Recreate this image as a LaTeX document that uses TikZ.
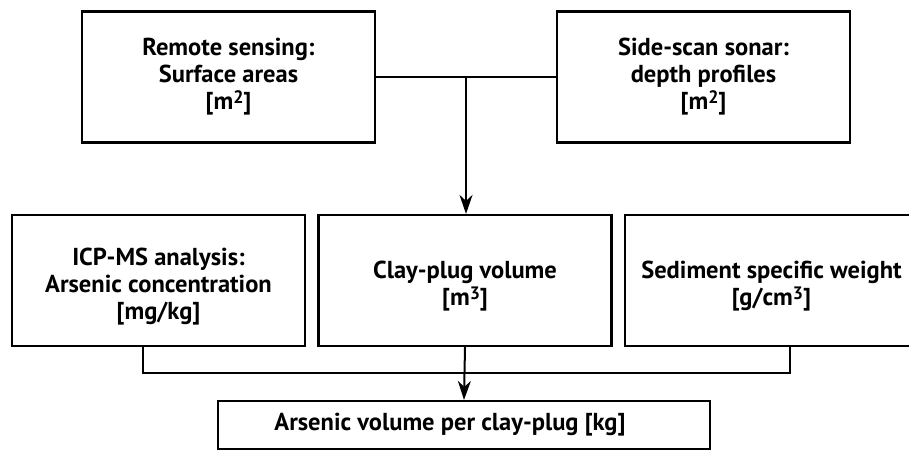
\documentclass[tikz,border=0pt]{standalone}
\usepackage{fontspec}
\setmainfont{PT Sans}
\usetikzlibrary{arrows.meta,positioning,calc}
\newcommand{\supunit}[1]{\raisebox{0.55ex}{\fontsize{18}{18}\selectfont #1}}

\begin{document}
\begin{tikzpicture}[x=1pt,y=1pt,>={Stealth[length=19pt,width=13pt,inset=6pt]},
  box/.style={draw,line width=2.2pt,minimum width=293pt,minimum height=131pt,inner sep=0pt},
  txt/.style={align=center,inner sep=0pt,font=\bfseries\fontsize{24.5}{27}\selectfont},
  link/.style={line width=2pt}]
  \useasboundingbox (0,0) rectangle (909,-451);
  % sources
  \node[box] (remote) at (228.5,-77) {};
  \node[box] (sonar) at (703.5,-77) {};
  \node[txt] (remotetxt) at (remote.center) {Remote sensing:\\Surface areas\\{}[m\supunit{2}]};
  \node[txt] (sonartxt) at (sonar.center) {Side-scan sonar:\\depth profiles\\{}[m\supunit{2}]};
  % middle row
  \node[box] (icp) at (158.5,-280.5) {};
  \node[box] (clay) at (465,-280.5) {};
  \node[box] (sed) at (771.5,-280.5) {};
  \node[txt] (icptxt) at ([yshift=-6pt]icp.center) {ICP-MS analysis:\\Arsenic concentration\\{}[mg/kg]};
  \node[txt] (claytxt) at ([yshift=-6pt]clay.center) {Clay-plug volume\\{}[m\supunit{3}]};
  \node[txt] (sedtxt) at ([yshift=-6pt]sed.center) {Sediment specific weight\\{}[g/cm\supunit{3}]};
  % result
  \node[box,minimum width=492pt,minimum height=48pt] (result) at (464,-425) {};
  \node[txt] (resulttxt) at ([xshift=-14pt]result.center) {Arsenic volume per clay-plug [kg]};
  % connectors
  \draw[link] (remote.east) -- coordinate (topjoin) (sonar.west);
  \draw[link,->] (topjoin) -- (topjoin |- clay.north);
  \coordinate (icpout) at ([xshift=-15.5pt]icp.south);
  \coordinate (sedout) at ([xshift=18.5pt]sed.south);
  \draw[link] (icpout) -- ++(0,-26) coordinate (lowleft) -| (sedout);
  \draw[link,->] (clay.south) -- (result.north);
\end{tikzpicture}
\end{document}
